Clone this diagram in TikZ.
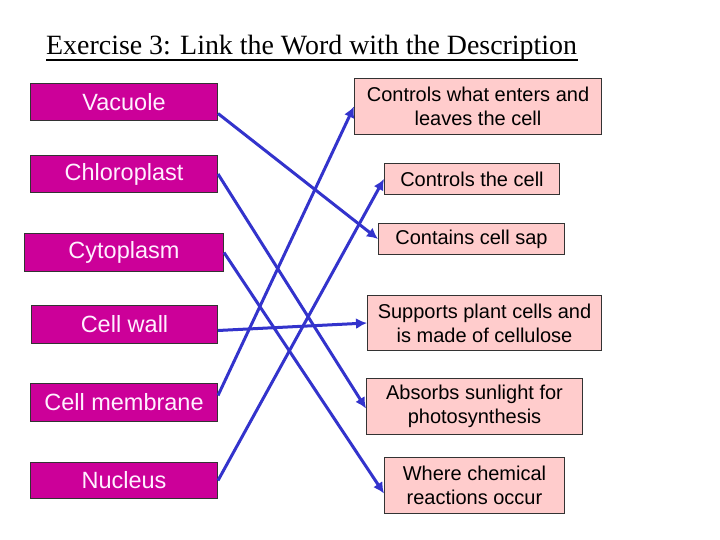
\documentclass[tikz,border=0pt]{standalone}
\usepackage{fontspec}
\setmainfont{Liberation Serif}
\newfontfamily\arialf{Liberation Sans}
\usetikzlibrary{arrows.meta}
\definecolor{mag}{HTML}{CC0099}
\definecolor{pinkbox}{HTML}{FFCCCC}
\definecolor{arrblue}{HTML}{3333CC}
\definecolor{wordtext}{HTML}{FFF0FF}
\tikzset{
  word/.style={draw=black!80, line width=1pt, fill=mag, inner sep=0pt, anchor=north west,
    text=wordtext, font=\arialf\fontsize{23.5}{26}\selectfont},
  desc/.style={draw=black!80, line width=1pt, fill=pinkbox, inner sep=0pt, anchor=north west,
    align=center, font=\arialf\fontsize{20}{24}\selectfont},
  link/.style={draw=arrblue, line width=3pt, -{Latex[length=11pt,width=11pt]}}
}
\begin{document}
\begin{tikzpicture}[x=1pt,y=-1pt]
\useasboundingbox (0,0) rectangle (720,540);
\fill[white] (0,0) rectangle (720,540);
% title
\node[anchor=base west, inner sep=0pt, font=\fontsize{27.9}{30}\selectfont] (title) at (46,55)
  {Exercise 3: Link the Word with the Description};
\draw[line width=1.5pt] (46,60) -- (578,60);
% words
\node[word, minimum width=187pt, minimum height=37pt] (vac) at (30,83) {Vacuole};
\node[word, minimum width=187pt, minimum height=37pt] (chl) at (30,155) {Chloroplast};
\node[word, minimum width=199pt, minimum height=38pt] (cyt) at (24,233) {Cytoplasm};
\node[word, minimum width=186pt, minimum height=38pt] (wall) at (31,305) {Cell wall};
\node[word, minimum width=187pt, minimum height=38pt] (mem) at (30,383) {Cell membrane};
\node[word, minimum width=187pt, minimum height=36pt] (nuc) at (30,462) {Nucleus};
% descriptions
\node[desc, minimum width=247pt, minimum height=56pt] (r1) at (354,78) {Controls what enters and\\leaves the cell};
\node[desc, minimum width=175pt, minimum height=31pt] (r2) at (384,163) {Controls the cell};
\node[desc, minimum width=186pt, minimum height=31pt] (r3) at (378,223) {Contains cell sap};
\node[desc, minimum width=234pt, minimum height=55pt] (r4) at (367,295) {Supports plant cells and\\is made of cellulose};
\node[desc, minimum width=216pt, minimum height=56pt] (r5) at (366,378) {Absorbs sunlight for\\photosynthesis};
\node[desc, minimum width=180pt, minimum height=56pt] (r6) at (384,457) {Where chemical\\reactions occur};
% links
\draw[link] ([yshift=-11.5pt]vac.east) -- (r3.west);
\draw[link] (chl.east) -- ([yshift=-2pt]r5.west);
\draw[link] (cyt.east) -- ([yshift=-8pt]r6.west);
\draw[link] ([yshift=-6pt]wall.east) -- (r4.west);
\draw[link] ([yshift=7pt]mem.east) -- (r1.west);
\draw[link] (nuc.east) -- (r2.west);
\end{tikzpicture}
\end{document}
